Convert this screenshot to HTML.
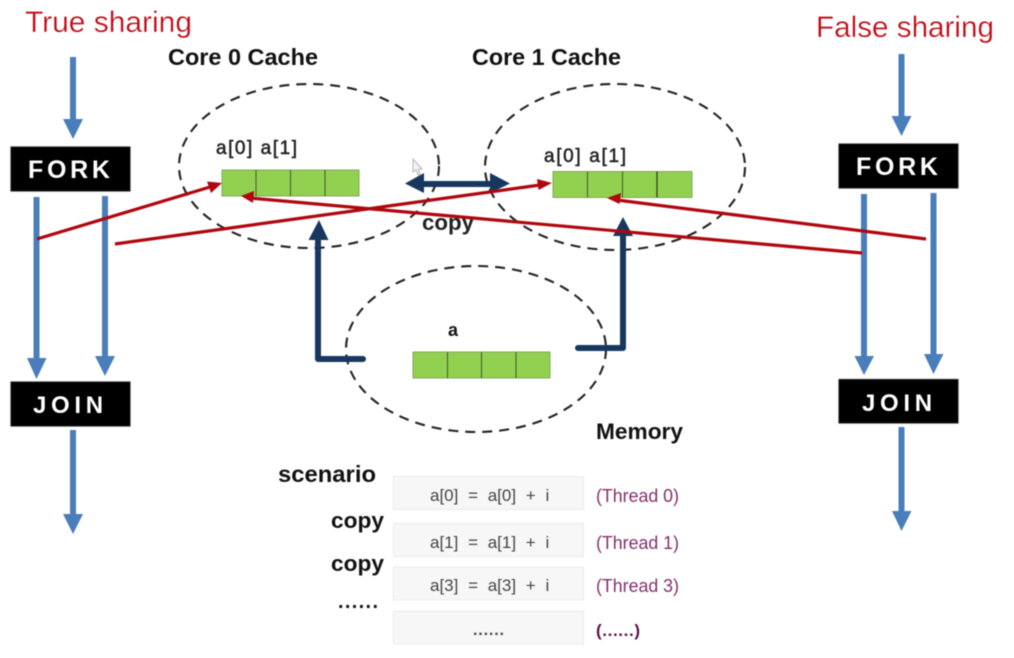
<!DOCTYPE html>
<html><head><meta charset="utf-8"><style>
html,body{margin:0;padding:0;background:#fff;width:1014px;height:658px;overflow:hidden}
svg{display:block;filter:blur(.45px)}
text{font-family:"Liberation Sans","DejaVu Sans",sans-serif}
.b{font-weight:bold;fill:#111}
.r{fill:#c20a14;font-size:30px;stroke:#fff;stroke-width:.3px}
.w{font-weight:bold;fill:#fff}
.t{fill:#444;font-size:17px;word-spacing:5px}
.p{fill:#85306c;font-size:18px}
.m{fill:#222;font-size:19px;stroke:#222;stroke-width:.5px}
.bl{stroke:#4a7ebb;stroke-width:6;fill:none}
.blh{fill:#4a7ebb}
.e{fill:none;stroke:#222;stroke-width:2.1;stroke-dasharray:10 7}
.g{fill:#92d050;stroke:#84a860;stroke-width:1}
.gl{stroke:#3f5a2a;stroke-width:1}
.rd{stroke:#b0060e;stroke-width:3.2;fill:none}
.rh{fill:#b0060e}
.n{stroke:#17375e;stroke-width:6;fill:none;stroke-linejoin:round;stroke-linecap:round}
.nh{fill:#17375e}
.bx{fill:#f7f7f7;stroke:#ebebeb;stroke-width:1}
</style></head><body>
<svg width="1014" height="658" viewBox="0 0 1014 658" xmlns="http://www.w3.org/2000/svg">
<rect width="1014" height="658" fill="#fff"/>

<text class="r" x="25" y="32" textLength="167" lengthAdjust="spacingAndGlyphs">True sharing</text>
<text class="r" x="816" y="37" textLength="178" lengthAdjust="spacingAndGlyphs">False sharing</text>

<text class="b" x="168" y="65" font-size="23" textLength="150" lengthAdjust="spacingAndGlyphs">Core 0 Cache</text>
<text class="b" x="472" y="65" font-size="23" textLength="149" lengthAdjust="spacingAndGlyphs">Core 1 Cache</text>

<!-- left blue arrows -->
<line class="bl" x1="73" y1="57" x2="73" y2="120"/><polygon class="blh" points="63,119 83,119 73,139"/>
<line class="bl" x1="36.5" y1="197" x2="36.5" y2="360"/><polygon class="blh" points="27,358 46.500,358 36.500,379"/>
<line class="bl" x1="105" y1="196" x2="105" y2="358"/><polygon class="blh" points="95,356 115,356 105,376"/>
<line class="bl" x1="73" y1="430" x2="73" y2="516"/><polygon class="blh" points="63,514 83,514 73,534"/>

<!-- right blue arrows -->
<line class="bl" x1="901.500" y1="54" x2="901.500" y2="118"/><polygon class="blh" points="891.500,116 911.500,116 901.500,136"/>
<line class="bl" x1="864" y1="194" x2="864" y2="358"/><polygon class="blh" points="854.500,356 874,356 864,375"/>
<line class="bl" x1="933.500" y1="193" x2="933.500" y2="356"/><polygon class="blh" points="924,354 943.500,354 933.500,374"/>
<line class="bl" x1="901.500" y1="427" x2="901.500" y2="512"/><polygon class="blh" points="892,511 911.500,511 901.500,531"/>

<!-- black boxes -->
<rect x="10.500" y="146.500" width="120" height="45" fill="#000" stroke="#999" stroke-width=".6"/>
<text class="w" x="28" y="178" font-size="25" letter-spacing="3.7">FORK</text>
<rect x="10.500" y="381.500" width="120" height="45" fill="#000" stroke="#999" stroke-width=".6"/>
<text class="w" x="33" y="413" font-size="24" letter-spacing="4.7">JOIN</text>
<rect x="838.500" y="143.500" width="120" height="45" fill="#000" stroke="#999" stroke-width=".6"/>
<text class="w" x="856" y="175" font-size="25" letter-spacing="3.7">FORK</text>
<rect x="838.500" y="379" width="120" height="44.500" fill="#000" stroke="#999" stroke-width=".6"/>
<text class="w" x="862" y="411" font-size="24" letter-spacing="4.7">JOIN</text>

<!-- dashed ellipses -->
<ellipse class="e" cx="309" cy="166" rx="130" ry="82"/>
<ellipse class="e" cx="615" cy="167" rx="130" ry="83"/>
<ellipse class="e" cx="476" cy="349" rx="130" ry="83"/>

<!-- green bars -->
<rect class="g" x="222" y="170" width="137" height="26"/>
<line class="gl" x1="256" y1="170" x2="256" y2="196"/><line class="gl" x1="290.500" y1="170" x2="290.500" y2="196"/><line class="gl" x1="325" y1="170" x2="325" y2="196"/>
<rect class="g" x="553" y="171.500" width="139" height="26"/>
<line class="gl" x1="587.500" y1="171.500" x2="587.500" y2="197.500"/><line class="gl" x1="622.500" y1="171.500" x2="622.500" y2="197.500"/><line x1="657" y1="171.500" x2="657" y2="197.500" stroke="#2a3a1a" stroke-width="1.2"/>
<rect class="g" x="413" y="352" width="137" height="26"/>
<line class="gl" x1="447.500" y1="352" x2="447.500" y2="378"/><line class="gl" x1="481.500" y1="352" x2="481.500" y2="378"/><line class="gl" x1="516" y1="352" x2="516" y2="378"/>

<text class="m" x="216" y="154" textLength="81" lengthAdjust="spacing">a[0] a[1]</text>
<text class="m" x="544" y="162" textLength="82" lengthAdjust="spacing">a[0] a[1]</text>
<text class="b" x="422" y="230" font-size="22" textLength="52" lengthAdjust="spacingAndGlyphs" style="fill:#222">copy</text>
<text class="b" x="448" y="336" font-size="18">a</text>
<text class="b" x="596" y="439" font-size="22" textLength="87" lengthAdjust="spacingAndGlyphs">Memory</text>

<!-- navy arrows -->
<polyline class="n" points="363,359 318,359 318,238"/><polygon class="nh" points="308.500,240 328.500,240 319,220"/>
<polyline class="n" points="578,348 623,348 623,234"/><polygon class="nh" points="613,236 633,236 623,217"/>
<line x1="420" y1="184" x2="495" y2="184" stroke="#17375e" stroke-width="6"/>
<polygon class="nh" points="405,183.500 424,173 424,193"/><polygon class="nh" points="510,183.500 490,173 490,193"/>

<!-- red arrows -->
<line class="rd" x1="37" y1="239" x2="210" y2="187"/><polygon class="rh" points="222,183 207,181.500 211,193"/>
<line class="rd" x1="115" y1="244" x2="540" y2="185"/><polygon class="rh" points="552,183 537,179 538.500,190"/>
<line class="rd" x1="862" y1="253" x2="250" y2="198"/><polygon class="rh" points="241,196 254,191 253,203"/>
<line class="rd" x1="926" y1="239" x2="617" y2="200"/><polygon class="rh" points="607,198 621,193 619.500,204"/>

<!-- cursor -->
<polygon points="413,159 413,172 416,170 418,175 420,174 418.500,169.500 422,169" fill="#f2f2f2" stroke="#b5b5b5" stroke-width="1"/>

<!-- scenario -->
<text class="b" x="278" y="482" font-size="23" textLength="98" lengthAdjust="spacingAndGlyphs">scenario</text>
<text class="b" x="331" y="528" font-size="22" textLength="53" lengthAdjust="spacingAndGlyphs">copy</text>
<text class="b" x="331" y="571" font-size="22" textLength="53" lengthAdjust="spacingAndGlyphs">copy</text>
<text class="b" x="338" y="608" font-size="20" textLength="40" lengthAdjust="spacing">......</text>

<rect class="bx" x="393.500" y="476.500" width="190" height="33"/>
<rect class="bx" x="393.500" y="523.500" width="190" height="33"/>
<rect class="bx" x="393.500" y="567" width="190" height="33"/>
<rect class="bx" x="393.500" y="611" width="190" height="33"/>
<text class="t" x="430" y="501">a[0] = a[0] + i</text>
<text class="t" x="430" y="548">a[1] = a[1] + i</text>
<text class="t" x="430" y="591">a[3] = a[3] + i</text>
<text x="473" y="635" font-size="16" font-weight="bold" fill="#444" textLength="31" lengthAdjust="spacing">......</text>

<text class="p" x="596" y="502" textLength="83" lengthAdjust="spacingAndGlyphs">(Thread 0)</text>
<text class="p" x="596" y="549" textLength="83" lengthAdjust="spacingAndGlyphs">(Thread 1)</text>
<text class="p" x="596" y="592" textLength="83" lengthAdjust="spacingAndGlyphs">(Thread 3)</text>
<text x="596" y="636" font-size="17" font-weight="bold" fill="#5c1050" textLength="44" lengthAdjust="spacing">(......)</text>
</svg>
</body></html>
